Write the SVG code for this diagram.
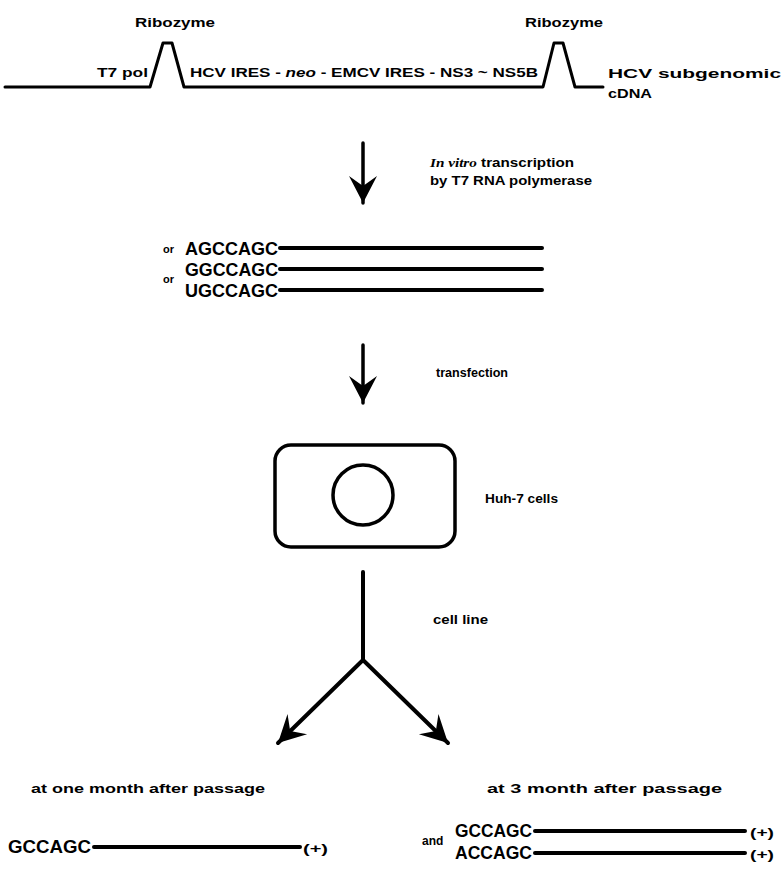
<svg xmlns="http://www.w3.org/2000/svg" width="784" height="870" viewBox="0 0 784 870">
<style>
text{font-family:"Liberation Sans",Arial,sans-serif;font-weight:bold;fill:#000}
.t{font-size:13.5px}
.s{font-size:18px}
.l{stroke:#000;fill:none;stroke-linecap:round;stroke-linejoin:round}
</style>
<defs>
<marker id="ah" markerUnits="userSpaceOnUse" markerWidth="40" markerHeight="40" refX="0" refY="0" viewBox="-30 -20 32 40" orient="auto" overflow="visible">
<path d="M0,0 L-27,-14 L-17,0 L-27,14 Z" fill="#000"/>
</marker>
</defs>
<rect width="784" height="870" fill="#fff"/>
<g id="cdna">
<path class="l" stroke-width="3" d="M5,87 L150,87 L163,43 L172,43 L184,87 L543,87 L554,43 L563,43 L575,87 L603,87"/>
<text class="t" x="135" y="27" textLength="80" lengthAdjust="spacingAndGlyphs">Ribozyme</text>
<text class="t" x="525" y="27" textLength="78" lengthAdjust="spacingAndGlyphs">Ribozyme</text>
<text class="t" x="97" y="77" textLength="51" lengthAdjust="spacingAndGlyphs">T7 pol</text>
<text class="t" x="190" y="77" font-size="11.5" textLength="348" lengthAdjust="spacingAndGlyphs">HCV IRES - <tspan font-style="italic">neo</tspan> - EMCV IRES - NS3 ~ NS5B</text>
<text class="t" x="608" y="78" font-size="14" textLength="173" lengthAdjust="spacingAndGlyphs">HCV subgenomic</text>
<text class="t" x="608" y="98" font-size="14" textLength="44" lengthAdjust="spacingAndGlyphs">cDNA</text>
</g>
<g id="connectors">
<line class="l" stroke-width="3.5" x1="363" y1="143" x2="363" y2="203" marker-end="url(#ah)"/>
<line class="l" stroke-width="3.5" x1="363" y1="345" x2="363" y2="403" marker-end="url(#ah)"/>
<line class="l" stroke-width="4" x1="363" y1="572" x2="363" y2="660"/>
<line class="l" stroke-width="4" x1="363" y1="660" x2="278" y2="743" marker-end="url(#ah)"/>
<line class="l" stroke-width="4" x1="363" y1="660" x2="448" y2="743" marker-end="url(#ah)"/>
</g>
<g id="label-transcription">
<text class="t" x="430" y="167" textLength="144" lengthAdjust="spacingAndGlyphs"><tspan font-style="italic" font-family="Liberation Serif,serif">In vitro</tspan> transcription</text>
<text class="t" x="430" y="185" textLength="162" lengthAdjust="spacingAndGlyphs">by T7 RNA polymerase</text>
</g>
<g id="rna">
<text x="163" y="253" font-size="11">or</text>
<text x="163" y="283" font-size="11">or</text>
<text class="s" x="185" y="255" textLength="93" lengthAdjust="spacingAndGlyphs">AGCCAGC</text>
<text class="s" x="185" y="276" textLength="93" lengthAdjust="spacingAndGlyphs">GGCCAGC</text>
<text class="s" x="185" y="297" textLength="93" lengthAdjust="spacingAndGlyphs">UGCCAGC</text>
<line class="l" stroke-width="4" x1="280" y1="248" x2="542" y2="248"/>
<line class="l" stroke-width="4" x1="280" y1="269" x2="542" y2="269"/>
<line class="l" stroke-width="4" x1="280" y1="290" x2="542" y2="290"/>
</g>
<g id="label-transfection">
<text class="t" x="436" y="377" textLength="72" lengthAdjust="spacingAndGlyphs">transfection</text>
</g>
<g id="cell">
<rect x="275" y="445" width="180" height="102" rx="16" class="l" stroke-width="3.5"/>
<circle cx="363" cy="495" r="30" class="l" stroke-width="3.5"/>
</g>
<g id="label-huh7">
<text class="t" x="485" y="503" textLength="73" lengthAdjust="spacingAndGlyphs">Huh-7 cells</text>
</g>
<g id="label-cellline">
<text class="t" x="433" y="624" textLength="55" lengthAdjust="spacingAndGlyphs">cell line</text>
</g>
<g id="one-month">
<text class="t" x="31" y="793" textLength="234" lengthAdjust="spacingAndGlyphs">at one month after passage</text>
<text class="s" x="8" y="853" textLength="83" lengthAdjust="spacingAndGlyphs">GCCAGC</text>
<line class="l" stroke-width="4" x1="94" y1="847" x2="300" y2="847"/>
<text class="t" x="303" y="853" font-size="15" textLength="25" lengthAdjust="spacingAndGlyphs">(+)</text>
</g>
<g id="three-month">
<text class="t" x="487" y="793" textLength="235" lengthAdjust="spacingAndGlyphs">at 3 month after passage</text>
<text x="422" y="845" font-size="12">and</text>
<text class="s" x="455" y="837" textLength="77" lengthAdjust="spacingAndGlyphs">GCCAGC</text>
<text class="s" x="455" y="859" textLength="77" lengthAdjust="spacingAndGlyphs">ACCAGC</text>
<line class="l" stroke-width="4" x1="535" y1="831" x2="745" y2="831"/>
<line class="l" stroke-width="4" x1="535" y1="853" x2="745" y2="853"/>
<text class="t" x="750" y="837" font-size="15" textLength="24" lengthAdjust="spacingAndGlyphs">(+)</text>
<text class="t" x="750" y="859" font-size="15" textLength="24" lengthAdjust="spacingAndGlyphs">(+)</text>
</g>
</svg>
